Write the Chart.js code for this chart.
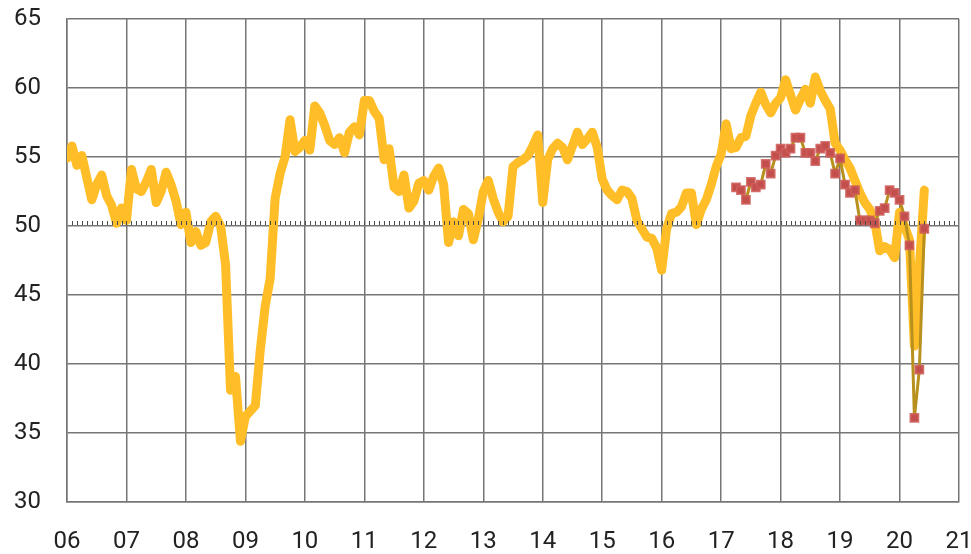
<!DOCTYPE html>
<html>
<head>
<meta charset="utf-8">
<script src="https://cdn.jsdelivr.net/npm/chart.js@4/dist/chart.umd.min.js"></script>
<style>
  html, body { margin: 0; padding: 0; background: #fff; }
  #wrap { width: 971px; height: 554px; }
</style>
</head>
<body>
<div id="wrap"><canvas id="chart" width="971" height="554"></canvas></div>
<script>
// monthly index, Jan 2006 .. Jun 2020
const mainIndex = [
  54.9, 55.8, 54.4, 55.1, 53.5, 51.9, 53.0, 53.7, 52.2, 51.5, 50.2, 51.3, // 06
  50.4, 54.1, 52.7, 52.5, 53.2, 54.1, 51.7, 52.5, 53.9, 53.0, 51.8, 50.1, // 07
  51.0, 48.8, 49.6, 48.6, 48.8, 50.3, 50.7, 50.0, 47.2, 38.1, 39.1, 34.4, // 08
  36.2, 36.6, 37.0, 41.0, 44.2, 46.2, 52.0, 53.8, 55.0, 57.7, 55.4, 55.7, // 09
  56.2, 55.5, 58.7, 58.2, 57.3, 56.2, 55.9, 56.4, 55.3, 56.8, 57.2, 56.6, // 10
  59.1, 59.1, 58.3, 57.8, 54.8, 55.6, 52.8, 52.5, 53.7, 51.3, 51.8, 53.1, // 11
  53.3, 52.6, 53.6, 54.2, 53.0, 48.8, 50.3, 49.3, 51.2, 50.9, 49.0, 50.5, // 12
  52.5, 53.3, 52.0, 51.0, 50.3, 50.7, 54.3, 54.6, 54.8, 55.1, 55.8, 56.6, // 13
  51.7, 54.8, 55.6, 56.0, 55.7, 54.8, 55.8, 56.8, 55.9, 56.3, 56.8, 55.7, // 14
  53.4, 52.6, 52.2, 51.9, 52.6, 52.5, 52.0, 50.4, 49.8, 49.2, 49.1, 48.4, // 15
  46.8, 49.8, 50.9, 51.0, 51.4, 52.4, 52.4, 50.1, 51.2, 51.9, 53.0, 54.3, // 16
  55.2, 57.4, 55.6, 55.7, 56.4, 56.5, 58.0, 58.9, 59.7, 58.8, 58.2, 58.9, // 17
  59.3, 60.6, 59.5, 58.4, 59.2, 59.9, 58.9, 60.8, 59.8, 59.1, 58.5, 56.0, // 18
  55.5, 54.8, 54.2, 53.3, 52.4, 51.7, 51.2, 50.3, 48.2, 48.5, 48.3, 47.7, // 19
  51.0, 50.0, 49.0, 41.3, 47.0, 52.6                                      // 20
];
// second index, Apr 2017 .. Jun 2020
const secondStart = 2017 + 3 / 12;
const secondIndex = [
  52.8, 52.6, 51.9, 53.2, 52.8, 53.0, 54.5, 53.8, 55.1, 55.6,
  55.3, 55.6, 56.4, 56.4, 55.3, 55.3, 54.7, 55.6, 55.8, 55.3,
  53.8, 54.9, 53.0, 52.4, 52.6, 50.4, 50.4, 50.4, 50.2, 51.1,
  51.3, 52.6, 52.4, 51.9, 50.7, 48.6, 36.1, 39.6, 49.8
];
const yearLabels = ["06","07","08","09","10","11","12","13","14","15","16","17","18","19","20","21"];
const yTicks = [30, 35, 40, 45, 50, 55, 60, 65];
const baseLine = 50;

const mainPoints = mainIndex.map((v, i) => ({x: 2006 + i / 12, y: v}));
const secondPoints = secondIndex.map((v, i) => ({x: secondStart + i / 12, y: v}));

// little monthly ticks sitting on the 50 line
const baseTicks = {
  id: "baseTicks",
  afterDraw(chart){
    let xs = chart.scales.x, ys = chart.scales.y;
    let ctx = chart.ctx;
    let y0 = ys.getPixelForValue(baseLine);
    ctx.save();
    ctx.strokeStyle = "#4a4a4a";
    ctx.lineWidth = 1;
    ctx.beginPath();
    for(let m = 1; m < 15 * 12; m++){
      let px = Math.round(xs.getPixelForValue(2006 + m / 12)) + 0.5;
      ctx.moveTo(px, y0 - 5);
      ctx.lineTo(px, y0 - 1);
    }
    ctx.stroke();
    ctx.restore();
  }
};

const font = {family: "Roboto", size: 24};

new Chart(document.getElementById("chart").getContext("2d"), {
  type: "line",
  data: {
    datasets: [{
      data: secondPoints,
      order: 1,
      borderColor: "#B8901E",
      borderWidth: 3,
      pointStyle: "rect",
      pointRadius: 5.5,
      pointBorderWidth: 2,
      pointBackgroundColor: "#C24F4C",
      pointBorderColor: "rgba(206,92,88,0.85)",
      tension: 0
    }, {
      data: mainPoints,
      order: 2,
      borderColor: "#FFBE28",
      borderWidth: 9,
      borderJoinStyle: "round",
      borderCapStyle: "round",
      pointRadius: 0,
      tension: 0
    }]
  },
  options: {
    responsive: false,
    animation: false,
    layout: {padding: 0},
    plugins: {legend: {display: false}, tooltip: {enabled: false}},
    scales: {
      x: {
        type: "linear",
        min: 2006,
        max: 2021,
        afterBuildTicks(scale){
          scale.ticks = yearLabels.map((t, i) => ({value: 2006 + i}));
        },
        afterFit(scale){
          scale.height = 52;
          scale.paddingLeft = 0;
          scale.paddingRight = 12;
        },
        grid: {color: "#767676", lineWidth: 1.5, drawTicks: false},
        border: {color: "#767676", width: 1.5},
        ticks: {
          padding: 26,
          color: "#222",
          font: font,
          maxRotation: 0,
          autoSkip: false,
          callback: (v) => yearLabels[Math.round(v - 2006)]
        }
      },
      y: {
        min: 30,
        max: 65,
        afterBuildTicks(scale){
          scale.ticks = yTicks.map((v) => ({value: v}));
        },
        afterFit(scale){
          scale.width = 67;
          scale.paddingTop = 19;
          scale.paddingBottom = 0;
        },
        grid: {color: "#767676", lineWidth: 1.5, drawTicks: false},
        border: {color: "#767676", width: 1.5},
        ticks: {padding: 26, color: "#222", font: font}
      }
    }
  },
  plugins: [baseTicks]
});
</script>
</body>
</html>
